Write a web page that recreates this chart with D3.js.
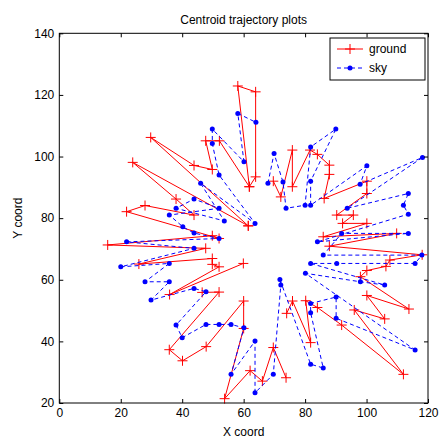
<!DOCTYPE html>
<html>
<head>
<meta charset="utf-8">
<script src="https://cdn.jsdelivr.net/npm/d3@7"></script>
<style>
  body { margin: 0; background: #fff; }
  text { font-family: Arial, "Liberation Sans", sans-serif; }
</style>
</head>
<body>
<svg id="chart" width="440" height="439"></svg>
<script>
// tick values and labels
const xTicks = [0, 20, 40, 60, 80, 100, 120];
const yTicks = [20, 40, 60, 80, 100, 120, 140];
const seriesNames = ['ground', 'sky'];

// ground centroid tracks (x, y)
const groundA = [[61.5,77.5],[29.75,106.2],[43.85,97.1],[49.8,95.8],[47.65,105.1],[52.1,105.1],
  [61.85,90.2],[58.1,122.9],[63.9,121.0],[63.9,93.4],[61.85,90.2]];
const groundB = [[69.65,92.0],[72.1,86.9],[75.85,102.1],[75.85,90.2],[81.6,102.1],[84.0,100.7],
  [87.9,97.2],[87.9,94.2],[86.2,86.4],[100.1,92.0],[100.1,88.0],[90.3,81.0],[95.7,81.0],
  [92.2,78.3],[100.1,78.3],[85.9,73.95],[109.8,75.05],[87.9,70.9],[118.1,68.1],[107.6,66.4],
  [106.3,64.35],[100.1,63.0],[98.0,61.0],[113.8,50.5],[100.1,54.9],[105.9,47.3],[96.0,50.2],
  [112.0,29.3],[91.9,45.3],[84.0,51.0],[80.2,53.2],[81.8,39.6],[75.9,53.1],[74.0,49.1]];
const groundC = [[73.8,28.2],[69.65,38.0],[66.1,27.1],[62.1,30.5],[53.8,21.4],[60.0,44.2],
  [60.0,53.1],[47.8,38.3],[40.1,33.7],[35.8,37.3],[52.0,56.0],[46.5,55.9]];
const groundD = [[59.9,65.3],[35.9,55.2],[52.0,64.2],[49.8,65.0],[49.8,66.9],[25.9,65.1],
  [47.65,70.2],[15.75,71.3],[49.8,74.3],[52.0,73.4],[21.9,82.1],[27.9,84.1],[43.85,81.0],
  [38.0,86.2],[23.9,98.1],[61.5,77.5]];

// sky centroid track (x, y)
const sky = [[67.9,91.3],[69.9,101.0],[72.8,91.7],[73.8,83.2],[80.0,84.2],[81.8,103.1],[90.0,108.9],
  [81.8,92.0],[81.8,84.2],[100.1,97.0],[97.9,91.0],[118.2,99.7],[93.7,83.2],[113.6,88.0],
  [112.0,84.2],[113.6,81.3],[84.0,72.3],[113.6,75.05],[91.9,75.05],[85.9,68.0],[118.0,68.0],
  [115.8,65.3],[90.3,65.3],[81.8,65.3],[105.9,58.3],[98.0,59.35],[80.1,62.1],[115.8,37.2],
  [90.1,47.5],[90.1,54.4],[81.8,52.3],[81.8,49.3],[85.9,31.35],[81.8,32.6],[71.8,60.1],
  [72.1,58.3],[69.65,29.3],[63.7,23.3],[63.7,40.1],[55.9,29.3],[60.1,44.4],[55.9,45.5],
  [52.0,45.5],[47.75,45.5],[40.0,41.2],[38.0,45.3],[47.75,56.1],[43.85,57.2],[29.85,53.4],
  [35.8,59.35],[27.9,59.35],[35.8,65.3],[20.0,64.2],[43.85,70.2],[21.9,72.3],[52.0,73.4],
  [43.85,75.15],[40.2,77.2],[35.8,81.0],[52.0,83.2],[43.85,86.2],[38.0,83.2],[53.7,79.1],
  [46.0,91.3],[63.7,78.3],[52.0,94.0],[49.8,104.2],[49.8,108.9],[60.1,98.3],[58.1,114.0],
  [64.0,111.1]];

const groundTracks = [groundA, groundB, groundC, groundD];

const svg = d3.select('#chart');
const plotL = 59.3, plotR = 428, plotT = 33.3, plotB = 403;

const x = d3.scaleLinear().domain([0, 120]).range([plotL, plotR]);
const y = d3.scaleLinear().domain([20, 140]).range([plotB, plotT]);

const line = d3.line().x(d => x(d[0])).y(d => y(d[1]));

// plot background
svg.append('rect').attr('x', plotL).attr('y', plotT)
  .attr('width', plotR - plotL).attr('height', plotB - plotT)
  .style('fill', '#fff');

// ground tracks
const gGround = svg.append('g');
gGround.selectAll('path.track')
  .data(groundTracks)
  .enter()
  .append('path')
  .attr('class', 'track')
  .attr('d', line)
  .style('fill', 'none')
  .style('stroke', '#ff0000')
  .style('stroke-width', 1);

function drawPlus(g, px, py) {
  g.append('path')
    .attr('d', `M${px - 5},${py}H${px + 5}M${px},${py - 5}V${py + 5}`)
    .style('stroke', '#ff0000')
    .style('stroke-width', 1)
    .style('fill', 'none');
}
groundTracks.forEach(track => track.forEach(d => drawPlus(gGround, x(d[0]), y(d[1]))));

// sky track
const gSky = svg.append('g');
gSky.append('path')
  .datum(sky)
  .attr('d', line)
  .style('fill', 'none')
  .style('stroke', '#0000ff')
  .style('stroke-width', 1)
  .style('stroke-dasharray', '4,3');
gSky.selectAll('circle')
  .data(sky)
  .enter()
  .append('circle')
  .attr('cx', d => x(d[0]))
  .attr('cy', d => y(d[1]))
  .attr('r', 2.5)
  .style('fill', '#0000ff');

// axes (ticks inward, box on)
const axisStyle = g => {
  g.select('.domain').remove();
  g.selectAll('.tick line').style('stroke', '#000');
  g.selectAll('.tick text').style('font-size', '12px').style('fill', '#000');
};
svg.append('g').attr('transform', `translate(0,${plotB})`)
  .call(d3.axisBottom(x).tickValues(xTicks).tickSize(-4).tickPadding(5))
  .call(axisStyle);
svg.append('g').attr('transform', `translate(0,${plotT})`)
  .call(d3.axisTop(x).tickValues(xTicks).tickSize(-4).tickFormat(''))
  .call(axisStyle);
svg.append('g').attr('transform', `translate(${plotL},0)`)
  .call(d3.axisLeft(y).tickValues(yTicks).tickSize(-4).tickPadding(5))
  .call(axisStyle);
svg.append('g').attr('transform', `translate(${plotR},0)`)
  .call(d3.axisRight(y).tickValues(yTicks).tickSize(-4).tickFormat(''))
  .call(axisStyle);

svg.append('rect').attr('x', plotL).attr('y', plotT)
  .attr('width', plotR - plotL).attr('height', plotB - plotT)
  .style('fill', 'none').style('stroke', '#000').style('stroke-width', 1);

// title and labels
svg.append('text').attr('x', (plotL + plotR) / 2).attr('y', 24)
  .attr('text-anchor', 'middle').style('font-size', '12px').text('Centroid trajectory plots');
svg.append('text').attr('x', (plotL + plotR) / 2).attr('y', 436)
  .attr('text-anchor', 'middle').style('font-size', '12px').text('X coord');
svg.append('text').attr('transform', `translate(22,${(plotT + plotB) / 2}) rotate(-90)`)
  .attr('text-anchor', 'middle').style('font-size', '12px').text('Y coord');

// legend
const lg = svg.append('g');
lg.append('rect').attr('x', 330).attr('y', 38).attr('width', 95).attr('height', 42)
  .style('fill', '#fff').style('stroke', '#000').style('stroke-width', 1);
lg.append('line').attr('x1', 337).attr('x2', 363).attr('y1', 49).attr('y2', 49)
  .style('stroke', '#ff0000').style('stroke-width', 1);
drawPlus(lg, 350, 49);
lg.append('line').attr('x1', 337).attr('x2', 363).attr('y1', 68).attr('y2', 68)
  .style('stroke', '#0000ff').style('stroke-width', 1).style('stroke-dasharray', '4,3');
lg.append('circle').attr('cx', 350).attr('cy', 68).attr('r', 2.5).style('fill', '#0000ff');
lg.selectAll('text.lbl')
  .data(seriesNames)
  .enter()
  .append('text')
  .attr('class', 'lbl')
  .attr('x', 369)
  .attr('y', (d, i) => 49 + i * 19)
  .attr('dy', '0.35em')
  .style('font-size', '12px')
  .text(d => d);
</script>
</body>
</html>
